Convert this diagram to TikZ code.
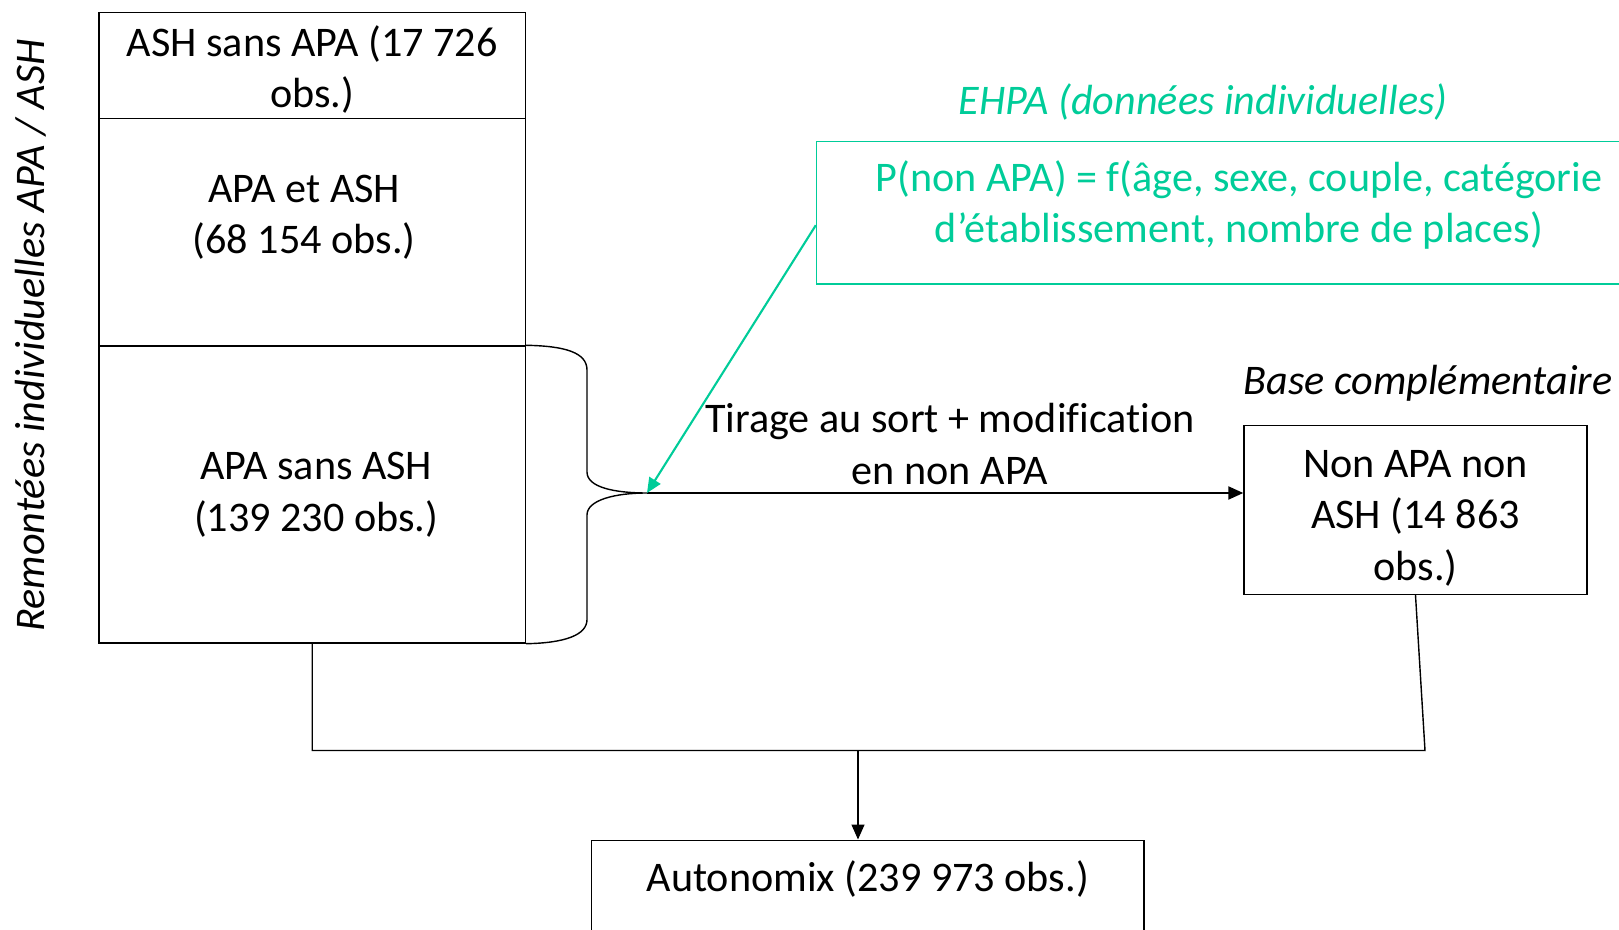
\documentclass[tikz,border=0pt]{standalone}
\usepackage{fontspec}
\setmainfont{Carlito}[Ligatures=NoCommon]
\usepackage{tikz}
\usetikzlibrary{positioning,arrows.meta}
\definecolor{ehpagreen}{RGB}{0,204,153}
\newcommand{\boxfont}{\fontsize{24}{29.3}\selectfont}

\begin{document}
\begin{tikzpicture}[>={Triangle[length=3mm,width=2.6mm]},line width=0.8pt]
  \tikzstyle{cell}=[draw,rectangle,inner sep=0pt,minimum width=8.53cm,align=center,font=\boxfont]
  \tikzstyle{box}=[draw,rectangle,inner sep=0pt,align=center,font=\boxfont]
  \tikzstyle{inside}=[font=\boxfont,align=center,anchor=center]
  \tikzstyle{note}=[font=\boxfont\itshape]
  \useasboundingbox (0,0) rectangle (32.38,-18.6);

  % remontees individuelles
  \node[cell,minimum height=2.12cm,label={[inside,yshift=-0.8mm]center:{ASH sans APA (17 726\\obs.)}}] (ashsans) at (6.245,-1.31) {};
  \node[cell,minimum height=4.55cm,label={[inside,xshift=-1.6mm,yshift=3mm]center:{APA et ASH\\(68 154 obs.)}}] (apaash) at (6.245,-4.645) {};
  \node[cell,minimum height=5.94cm,label={[inside,xshift=0.8mm,yshift=0mm]center:{APA sans ASH\\(139 230 obs.)}}] (apasans) at (6.245,-9.89) {};
  \node[note,rotate=90] (remontees) at (0.62,-6.71) {Remontées individuelles APA / ASH};

  % EHPA
  \node[note,text=ehpagreen] (ehpa) at (24.06,-2.04) {EHPA (données individuelles)};
  \node[box,draw=ehpagreen,minimum width=16.9cm,minimum height=2.85cm,label={[inside,text=ehpagreen,yshift=1.6mm]center:{P(non APA) = f(âge, sexe, couple, catégorie\\d’établissement, nombre de places)}}] (pmodel) at (24.78,-4.255) {};

  % base complementaire
  \node[note] (basecomp) at (28.56,-7.66) {Base complémentaire};
  \node[box,minimum width=6.86cm,minimum height=3.38cm,label={[inside,yshift=-1.6mm]center:{Non APA non\\ASH (14 863\\obs.)}}] (nonapa) at (28.31,-10.2) {};

  \node[box,minimum width=11.05cm,minimum height=2.5cm,anchor=north,label={[inside,yshift=-7.8mm]north:Autonomix (239 973 obs.)}] (autonomix) at (17.355,-16.79) {};

  % accolade
  \coordinate (tip) at (12.94,-9.86);
  \draw (apasans.north east) .. controls (11.3,-6.92) and (11.74,-7.05) .. (11.74,-7.4)
    -- (11.74,-9.44) .. controls (11.74,-9.75) and (12.3,-9.86) .. (tip)
    .. controls (12.3,-9.86) and (11.74,-10.0) .. (11.74,-10.3)
    -- (11.74,-12.39) .. controls (11.74,-12.7) and (11.3,-12.86) .. (apasans.south east);

  % tirage
  \draw[->,line width=1.2pt] (tip) -- (tip -| nonapa.west);
  \draw[->,ehpagreen,line width=1.2pt] ([yshift=-2.5mm]pmodel.west) -- (tip);
  \node[box,draw=none] (tirage) at (19.0,-8.88) {Tirage au sort + modification\\en non APA};

  % fusion
  \coordinate (rjoin) at (28.5,-15.01);
  \coordinate (merge) at (17.16,-15.01);
  \draw (apasans.south) |- (rjoin) -- (nonapa.south);
  \draw[->] (merge) -- (merge |- autonomix.north);
\end{tikzpicture}
\end{document}
